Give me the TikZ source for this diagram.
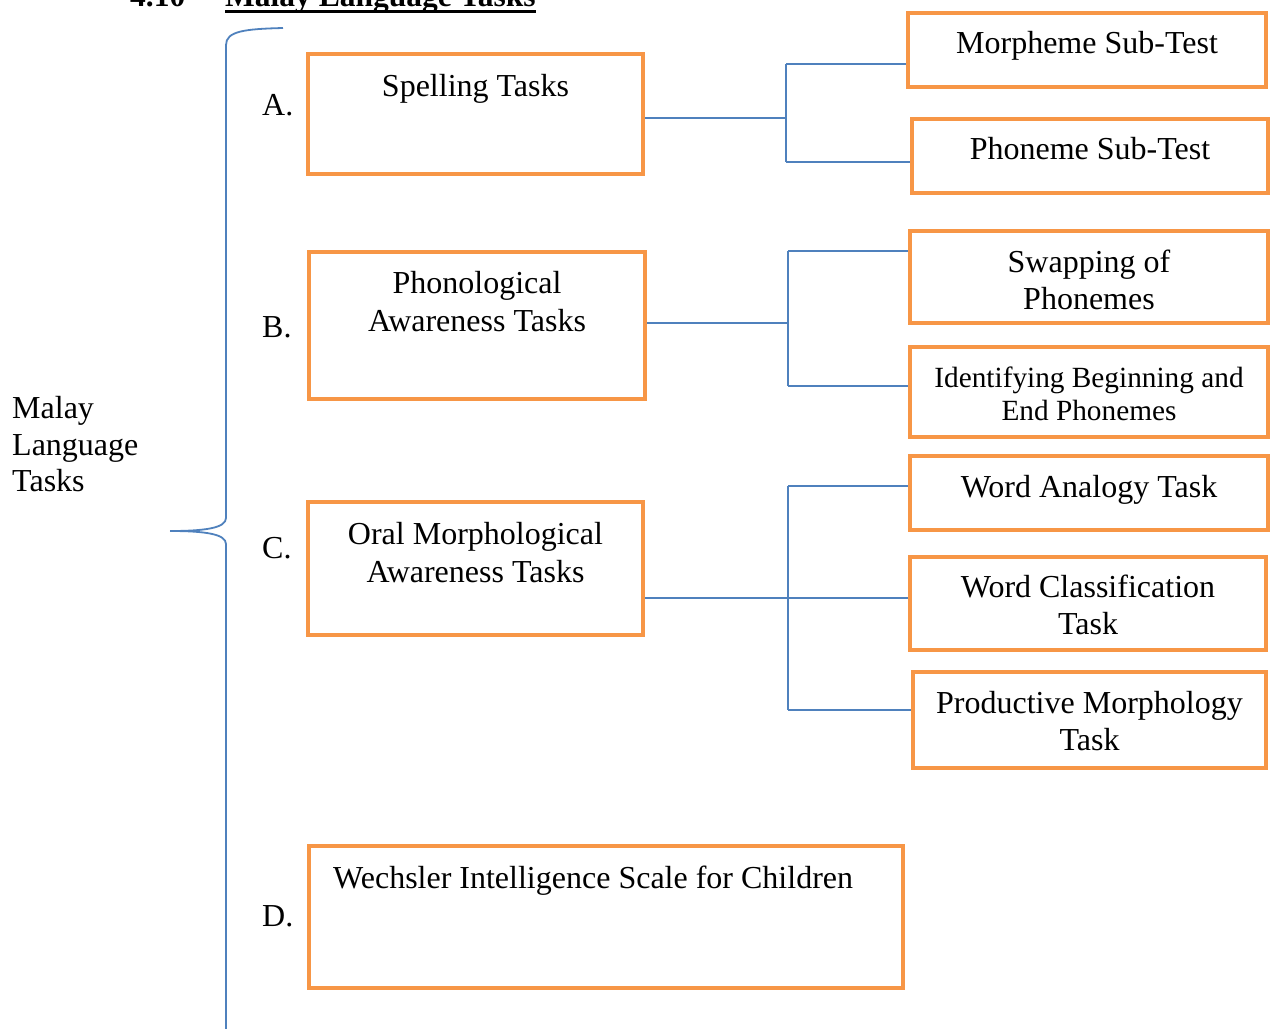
\documentclass[tikz,border=0pt]{standalone}
\usepackage{fontspec}
\setmainfont{Liberation Serif}
\definecolor{boxorange}{HTML}{F79646}
\definecolor{linkblue}{HTML}{4F81BD}
\tikzset{
  obox/.style={draw=boxorange, line width=4pt, inner sep=0pt, fill=none},
  conn/.style={draw=linkblue, line width=1.8pt},
  txt/.style={inner sep=0pt, anchor=base, font=\fontsize{32}{37}\selectfont},
  stxt/.style={inner sep=0pt, anchor=base, font=\fontsize{29.3}{33}\selectfont},
  ltxt/.style={inner sep=0pt, anchor=base west, font=\fontsize{32}{37}\selectfont},
}
\begin{document}
\begin{tikzpicture}[x=1pt,y=-1pt]
\useasboundingbox (0,0) rectangle (1271,1028);
% heading (cut off at top)
\node[ltxt, font=\fontsize{31.5}{37}\selectfont\bfseries] (hnum) at (130,6) {4.10};
\node[ltxt, font=\fontsize{31.5}{37}\selectfont\bfseries] (htitle) at (225,6) {Malay Language Tasks};
\draw[black, line width=3pt] (htitle.base west) ++(0,5.5) -- ([yshift=-5.5pt]htitle.base east);
% left boxes
\node[obox, minimum width=335, minimum height=120] (a) at (475.5,114) {};
\node[obox, minimum width=336, minimum height=147] (b) at (477,325.5) {};
\node[obox, minimum width=335, minimum height=133] (c) at (475.5,568.5) {};
\node[obox, minimum width=594, minimum height=142] (d) at (606,917) {};
% right boxes
\node[obox, minimum width=358, minimum height=74] (m1) at (1087,50) {};
\node[obox, minimum width=356, minimum height=74] (m2) at (1090,156) {};
\node[obox, minimum width=358, minimum height=92] (s1) at (1089,277) {};
\node[obox, minimum width=358, minimum height=90] (s2) at (1089,392) {};
\node[obox, minimum width=358, minimum height=74] (w1) at (1089,493) {};
\node[obox, minimum width=356, minimum height=93] (w2) at (1088,603.5) {};
\node[obox, minimum width=353, minimum height=96] (w3) at (1089.5,720) {};
% texts
\node[txt] (ta) at (475.5,96) {Spelling Tasks};
\node[txt] (tb1) at (477,293) {Phonological};
\node[txt] (tb2) at (477,331) {Awareness Tasks};
\node[txt] (tc1) at (475.5,544) {Oral Morphological};
\node[txt] (tc2) at (475.5,582) {Awareness Tasks};
\node[ltxt] (td) at (333,888) {Wechsler Intelligence Scale for Children};
\node[txt] (tm1) at (1087,53) {Morpheme Sub-Test};
\node[txt] (tm2) at (1090,159) {Phoneme Sub-Test};
\node[txt] (ts11) at (1089,272) {Swapping of};
\node[txt] (ts12) at (1089,309) {Phonemes};
\node[stxt] (ts21) at (1089,387) {Identifying Beginning and};
\node[stxt] (ts22) at (1089,420) {End Phonemes};
\node[txt] (tw1) at (1089,497) {Word Analogy Task};
\node[txt] (tw21) at (1088,597) {Word Classification};
\node[txt] (tw22) at (1088,634) {Task};
\node[txt] (tw31) at (1089.5,713) {Productive Morphology};
\node[txt] (tw32) at (1089.5,750) {Task};
% letters
\node[ltxt] (la) at (262,115) {A.};
\node[ltxt] (lb) at (262,337) {B.};
\node[ltxt] (lc) at (262,558) {C.};
\node[ltxt] (ld) at (262,926) {D.};
% root label
\node[ltxt] (r1) at (12,418) {Malay};
\node[ltxt] (r2) at (12,455) {Language};
\node[ltxt] (r3) at (12,491) {Tasks};
% brace
\coordinate (bt) at (283,28);
\coordinate (btip) at (170,531);
\coordinate (bbot) at (226,1032);
\draw[conn] (bt) .. controls (245,29) and (226,31) .. (226,45) -- (226,518)
  .. controls (226,528) and (205,531) .. (btip);
\draw[conn] (btip) .. controls (205,531) and (226,534) .. (226,544) -- (bbot);
% connectors A
\coordinate (ja) at (786,118);
\coordinate (ja1) at (786,64);
\coordinate (ja2) at (786,162);
\draw[conn] (a.east |- ja) -- (ja);
\draw[conn] (ja1) -- (ja2);
\draw[conn] (ja1) -- (m1.west |- ja1);
\draw[conn] (ja2) -- (m2.west |- ja2);
% connectors B
\coordinate (jb) at (788,323);
\coordinate (jb1) at (788,251);
\coordinate (jb2) at (788,386);
\draw[conn] (b.east |- jb) -- (jb);
\draw[conn] (jb1) -- (jb2);
\draw[conn] (jb1) -- (s1.west |- jb1);
\draw[conn] (jb2) -- (s2.west |- jb2);
% connectors C
\coordinate (jc) at (788,598);
\coordinate (jc1) at (788,486);
\coordinate (jc3) at (788,710);
\draw[conn] (c.east |- jc) -- (jc);
\draw[conn] (jc1) -- (jc3);
\draw[conn] (jc1) -- (w1.west |- jc1);
\draw[conn] (jc) -- (w2.west |- jc);
\draw[conn] (jc3) -- (w3.west |- jc3);
\end{tikzpicture}
\end{document}
